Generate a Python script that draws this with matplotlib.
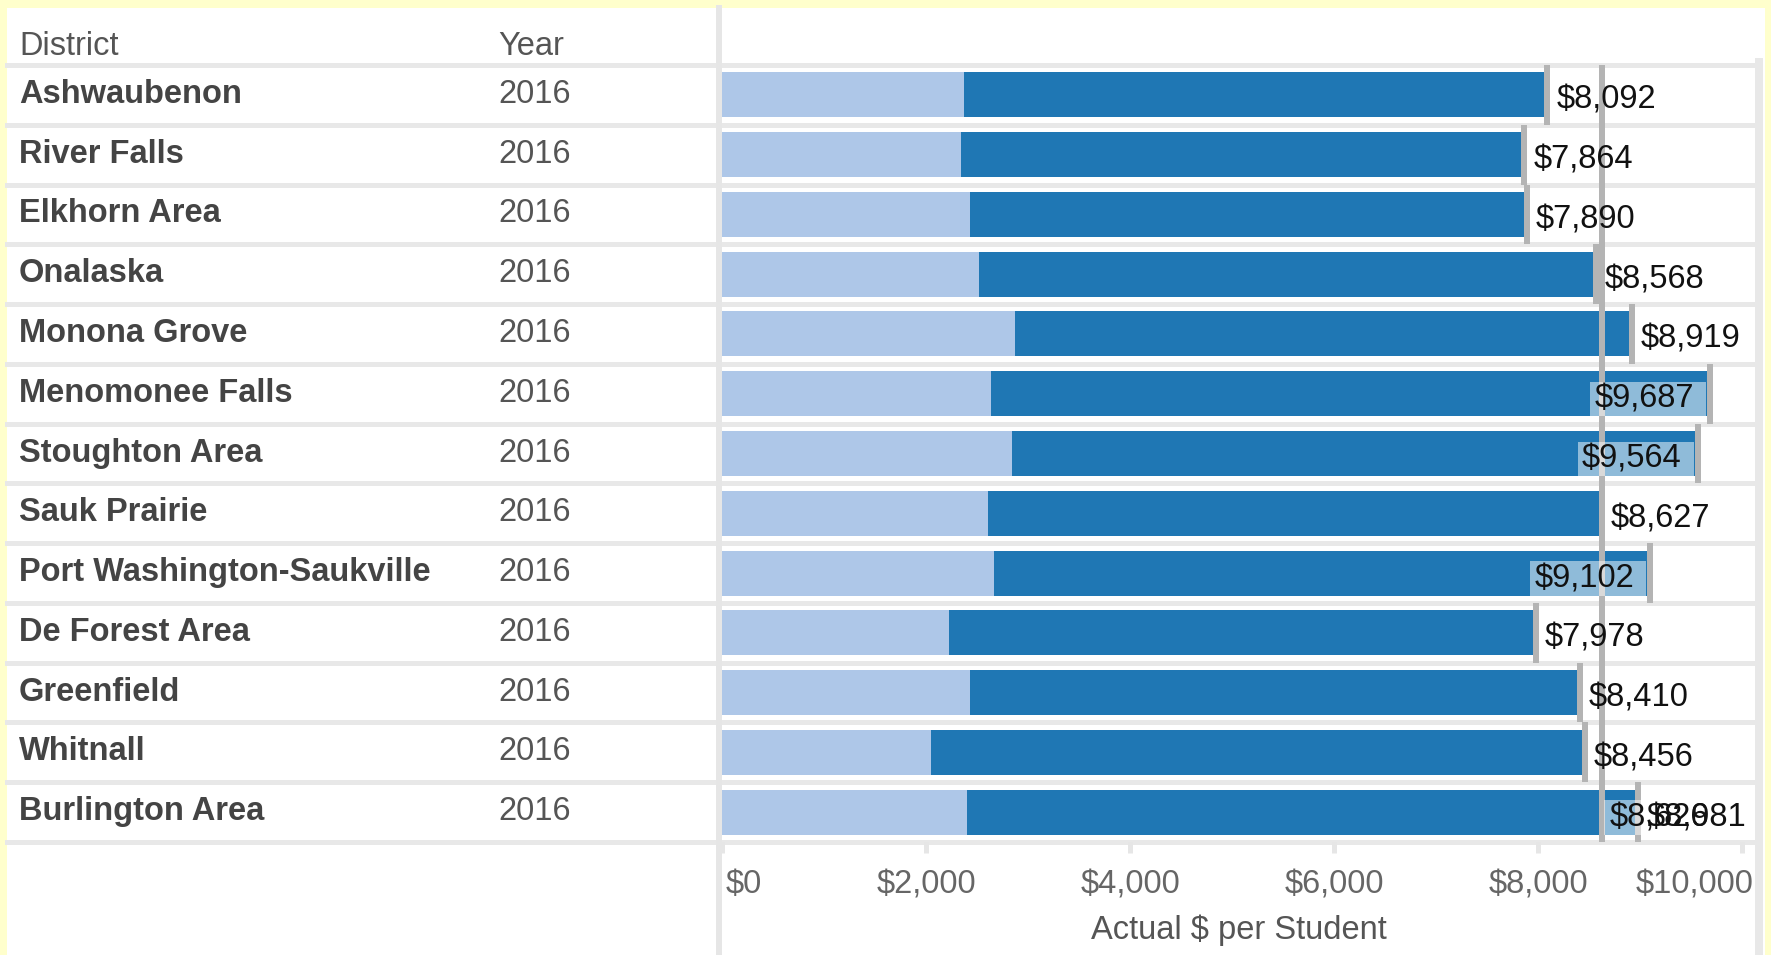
import numpy as np
import matplotlib
matplotlib.use("Agg")
import matplotlib.pyplot as plt
from matplotlib.patches import Rectangle
from matplotlib.lines import Line2D

plt.rcParams['font.family'] = ['Liberation Sans', 'DejaVu Sans']
plt.rcParams['font.size'] = 23.5

# per-student spending by district
districts = ["Ashwaubenon", "River Falls", "Elkhorn Area", "Onalaska", "Monona Grove",
             "Menomonee Falls", "Stoughton Area", "Sauk Prairie", "Port Washington-Saukville",
             "De Forest Area", "Greenfield", "Whitnall", "Burlington Area"]
years = ["2016", "2016", "2016", "2016", "2016", "2016", "2016",
         "2016", "2016", "2016", "2016", "2016", "2016"]
totals = [8092, 7864, 7890, 8568, 8919, 9687, 9564, 8627, 9102, 7978, 8410, 8456, 8981]
base_part = [2373, 2343, 2431, 2520, 2873, 2637, 2843, 2608, 2667, 2225, 2431, 2049, 2402]
ticks = [0, 2000, 4000, 6000, 8000, 10000]

LIGHT = '#aec7e8'
DARK = '#1f77b4'
GRID = '#e8e8e8'
REF = '#b4b4b4'

W, H = 1771, 955


def fx(px):
    return px / W


def fy(py):
    return 1 - py / H


fig = plt.figure(figsize=(W / 100, H / 100), dpi=100)
fig.patch.set_facecolor('#ffffcc')
fig.patches.append(Rectangle((fx(7), 0), fx(1765) - fx(7), fy(8), transform=fig.transFigure,
                             facecolor='white', edgecolor='none', zorder=-1))

top, bottom = 65, 842
ax_tab = fig.add_axes([fx(7), fy(bottom), fx(716) - fx(7), fy(top) - fy(bottom)])
ax = fig.add_axes([fx(722), fy(bottom), fx(1755) - fx(722), fy(top) - fy(bottom)])
x_max = 10127
ppd = (1755 - 722) / x_max  # pixels per dollar

n = len(districts)
rows = np.arange(n)
row_px = (bottom - top) / n

for a in (ax_tab, ax):
    a.set_ylim(n - 0.5, -0.5)
    a.patch.set_alpha(0)
    for s in a.spines.values():
        s.set_visible(False)
    for b in np.arange(-0.5, n):
        a.axhline(b, color=GRID, lw=5 * 0.72, zorder=1, clip_on=False)

# table columns
ax_tab.set_xlim(0, 709)
ax_tab.set_xticks([])
ax_tab.set_yticks([])
hdr_y = -0.5 - 10 / row_px
ax_tab.text(12, hdr_y, "District", color='#555555', va='baseline', clip_on=False)
ax_tab.text(491, hdr_y, "Year", color='#555555', va='baseline', clip_on=False)
for i in rows:
    ax_tab.text(12, i + 8 / row_px, districts[i], color='#444444', fontweight='bold', va='baseline')
    ax_tab.text(491, i + 8 / row_px, years[i], color='#555555', va='baseline')

# stacked bars
totals_a = np.array(totals)
base_a = np.array(base_part)
bar_h = 45 / row_px
ax.barh(rows, base_a, height=bar_h, color=LIGHT, zorder=2)
ax.barh(rows, totals_a - base_a, left=base_a, height=bar_h, color=DARK, zorder=2)
ax.set_xlim(0, x_max)
ax.set_yticks([])

# per-row markers and average line
ax.vlines(totals_a, rows - 0.5, rows + 0.5, color=REF, lw=6 * 0.72, zorder=4)
avg = totals_a.mean()
ax.vlines(avg, -0.5, n - 0.5, color=REF, lw=6 * 0.72, zorder=4)

lbl_w = 98  # label width in pixels
for i in rows:
    v = totals[i]
    y = i + 14 / row_px
    txt = f"${v:,.0f}"
    if 722 + v * ppd + 9 + lbl_w > 1755:
        ax.add_patch(Rectangle((v - 120 / ppd, i - 12 / row_px), 116 / ppd, bar_h / 2 + 12 / row_px,
                               facecolor='white', alpha=0.5, edgecolor='none', zorder=5))
        ax.annotate(txt, (v, y), xytext=(-16, 0), textcoords='offset pixels',
                    ha='right', va='baseline', color='#111111', zorder=6)
    else:
        ax.annotate(txt, (v, y), xytext=(9, 0), textcoords='offset pixels',
                    ha='left', va='baseline', color='#111111', zorder=6, annotation_clip=False)

# average label on the last row
last = n - 1
ax.add_patch(Rectangle((avg + 2 / ppd, last - 12 / row_px), 110 / ppd, bar_h / 2 + 12 / row_px,
                       facecolor='white', alpha=0.5, edgecolor='none', zorder=5))
ax.annotate(f"${avg:,.0f}", (avg, last + 14 / row_px), xytext=(8, 0), textcoords='offset pixels',
            ha='left', va='baseline', color='#111111', zorder=6, annotation_clip=False)

# x axis
ax.set_xticks(ticks)
ax.tick_params(axis='x', length=11 * 0.72, width=5 * 0.72, color='#e6e6e6', labelbottom=False)
for t in ticks:
    if t == ticks[0]:
        ha, dx = 'left', 4
    elif t == ticks[-1]:
        ha, dx = 'right', 11
    else:
        ha, dx = 'center', 0
    ax.annotate(f"${t:,.0f}", (t, 0), xycoords=('data', 'axes fraction'), xytext=(dx, -51),
                textcoords='offset pixels', ha=ha, va='baseline', color='#666666',
                annotation_clip=False)
ax.annotate("Actual $ per Student", (0.5, 0), xycoords='axes fraction', xytext=(0, -97),
            textcoords='offset pixels', ha='center', va='baseline', color='#555555')

# pane dividers
fig.add_artist(Line2D([fx(719), fx(719)], [fy(8), 0], transform=fig.transFigure,
                      color='#e6e6e6', lw=6 * 0.72))
fig.add_artist(Line2D([fx(1759), fx(1759)], [fy(62), 0], transform=fig.transFigure,
                      color='#e8e8e8', lw=8 * 0.72))

fig.savefig('out.png', dpi=100, facecolor=fig.get_facecolor())
